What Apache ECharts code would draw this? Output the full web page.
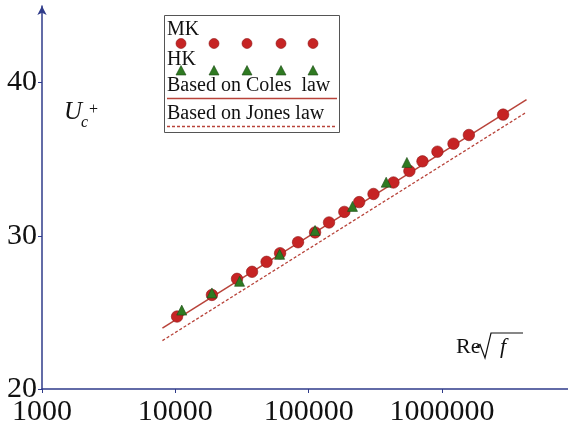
<!DOCTYPE html>
<html>
<head>
<meta charset="utf-8">
<script src="https://cdn.jsdelivr.net/npm/echarts@6/dist/echarts.min.js"></script>
<style>
html,body{margin:0;padding:0;background:#fff;}
#c{width:568px;height:429px;}
</style>
</head>
<body>
<div id="c"></div>
<script>
// ---- data ----
var mkRe = [10300, 18800, 29000, 37600, 48300, 61000, 83200, 111600, 142000, 185000, 239000, 306000, 432000, 569000, 713000, 923000, 1218000, 1589000, 2870000];
var mkU  = [24.73, 26.14, 27.19, 27.65, 28.30, 28.86, 29.58, 30.22, 30.87, 31.56, 32.20, 32.73, 33.48, 34.23, 34.86, 35.49, 36.01, 36.58, 37.91];
var hkRe = [11170, 18800, 30300, 60500, 111600, 213000, 381000, 545000];
var hkU  = [25.15, 26.27, 27.03, 28.79, 30.35, 31.92, 33.50, 34.79];
var colesRe = [8000, 4300000];
var colesU  = [23.97, 38.89];
var jonesRe = [8000, 4300000];
var jonesU  = [23.16, 38.07];
var xTicks = [1000, 10000, 100000, 1000000];
var yTicks = [20, 30, 40];

function pairs(xs, ys){ return xs.map(function(x,i){ return [x, ys[i]]; }); }

var axisColor = '#2f3b8a';
var serif = '"Liberation Serif","Times New Roman",serif';
var red = '#c62424', redEdge = '#8e1616';
var green = '#2f7a22', greenEdge = '#1d4a15';
var lineRed = '#b8433a';

var chart = echarts.init(document.getElementById('c'), null, {renderer:'canvas'});

var legendCirclesX = [181, 214, 247, 281, 313];
var graphics = [
  {type:'rect', shape:{x:164.5, y:15.5, width:175, height:117}, style:{fill:'#fff', stroke:'#555', lineWidth:1}, z:10},
  {type:'text', x:167, y:30, style:{text:'MK', font:'20px '+serif, fill:'#111', verticalAlign:'middle', textVerticalAlign:'middle'}, z:11},
  {type:'text', x:167, y:60, style:{text:'HK', font:'20px '+serif, fill:'#111', verticalAlign:'middle', textVerticalAlign:'middle'}, z:11},
  {type:'text', x:167, y:86, style:{text:'Based on Coles  law', font:'20px '+serif, fill:'#111', verticalAlign:'middle', textVerticalAlign:'middle'}, z:11},
  {type:'line', shape:{x1:167, y1:98.5, x2:337, y2:98.5}, style:{stroke:lineRed, lineWidth:1.5}, z:11},
  {type:'text', x:167, y:114, style:{text:'Based on Jones law', font:'20px '+serif, fill:'#111', verticalAlign:'middle', textVerticalAlign:'middle'}, z:11},
  {type:'line', shape:{x1:167, y1:126.5, x2:337, y2:126.5}, style:{stroke:lineRed, lineWidth:1.3, lineDash:[3,2]}, z:11},
  // y-axis title U_c^+
  {type:'text', x:64, y:125, style:{text:'U', font:'italic 25px '+serif, fill:'#111', verticalAlign:'bottom', textVerticalAlign:'bottom'}, z:11},
  {type:'text', x:81, y:131, style:{text:'c', font:'italic 16px '+serif, fill:'#111', verticalAlign:'bottom', textVerticalAlign:'bottom'}, z:11},
  {type:'text', x:89, y:118, style:{text:'+', font:'16px '+serif, fill:'#111', verticalAlign:'bottom', textVerticalAlign:'bottom'}, z:11},
  // x-axis title Re sqrt(f)
  {type:'text', x:456, y:358, style:{text:'Re', font:'22px '+serif, fill:'#111', verticalAlign:'bottom', textVerticalAlign:'bottom'}, z:11},
  {type:'polyline', shape:{points:[[476,347],[480,344.5],[485,358],[491,333],[523,333]]}, style:{stroke:'#111', lineWidth:1.2, fill:null}, z:11},
  {type:'text', x:500, y:358, style:{text:'f', font:'italic 22px '+serif, fill:'#111', verticalAlign:'bottom', textVerticalAlign:'bottom'}, z:11}
];
legendCirclesX.forEach(function(x){
  graphics.push({type:'circle', shape:{cx:x, cy:43.5, r:5}, style:{fill:red, stroke:redEdge, lineWidth:0.6}, z:11});
  graphics.push({type:'polygon', shape:{points:[[x,65.5],[x-5,75],[x+5,75]]}, style:{fill:green, stroke:greenEdge, lineWidth:0.6}, z:11});
});

var option = {
  backgroundColor:'#fff',
  animation:false,
  grid:{left:42, right:0, top:6, bottom:40, containLabel:false},
  xAxis:{
    type:'log', logBase:10, min:1000, max:8800000,
    axisLine:{show:true, lineStyle:{color:axisColor, width:1.5}},
    axisTick:{show:true, length:4, customValues:xTicks, lineStyle:{color:axisColor, width:1}},
    axisLabel:{show:true, customValues:xTicks, margin:8, fontFamily:serif, fontSize:30, color:'#111', formatter:function(v){return String(Math.round(v));}},
    splitLine:{show:false}, minorTick:{show:false}
  },
  yAxis:{
    type:'value', min:20, max:45, interval:10,
    axisLine:{show:true, symbol:['none','arrow'], symbolSize:[7,9], lineStyle:{color:axisColor, width:1.5}},
    axisTick:{show:true, length:4, customValues:yTicks, lineStyle:{color:axisColor, width:1}},
    axisLabel:{show:true, customValues:yTicks, margin:5, fontFamily:serif, fontSize:30, color:'#111'},
    splitLine:{show:false}
  },
  graphic:graphics,
  series:[
    {type:'line', data:pairs(colesRe, colesU), symbol:'none', lineStyle:{color:lineRed, width:1.5}, z:2},
    {type:'line', data:pairs(jonesRe, jonesU), symbol:'none', lineStyle:{color:lineRed, width:1.3, type:[3,2]}, z:2},
    {type:'scatter', data:pairs(mkRe, mkU), symbol:'circle', symbolSize:11.5, itemStyle:{color:red, borderColor:redEdge, borderWidth:0.6, opacity:1}, z:3},
    {type:'scatter', data:pairs(hkRe, hkU), symbol:'triangle', symbolSize:[10,10], itemStyle:{color:green, borderColor:greenEdge, borderWidth:0.6, opacity:1}, z:4}
  ]
};
chart.setOption(option);
</script>
</body>
</html>
